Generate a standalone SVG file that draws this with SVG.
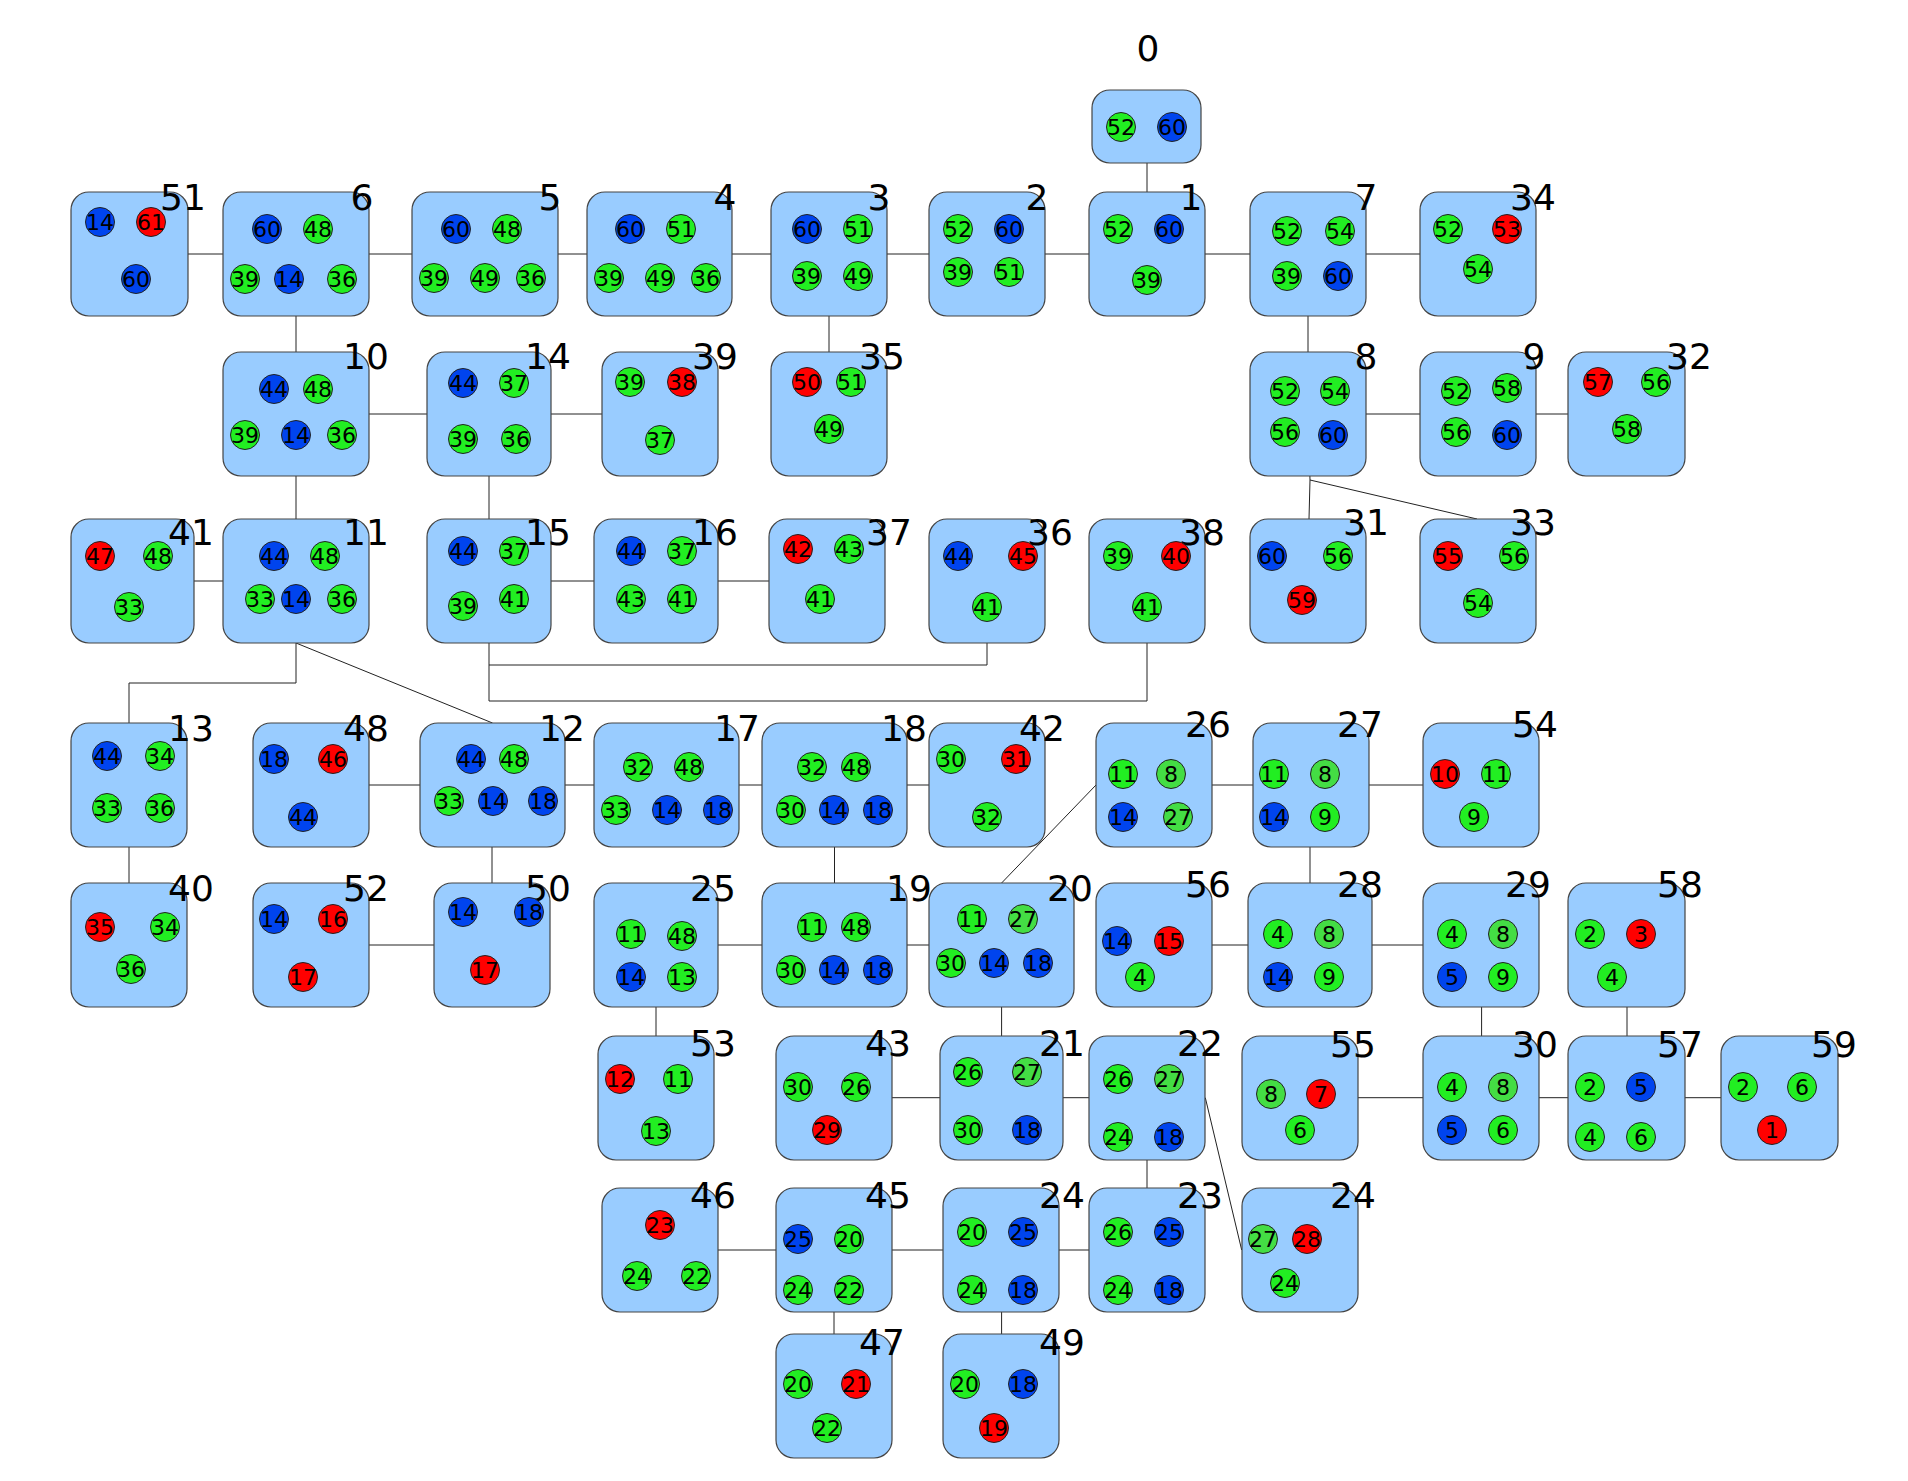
<svg xmlns="http://www.w3.org/2000/svg" width="1908" height="1481" viewBox="0 0 1908 1481">
<style>
.bx{fill:#99ccff;stroke:#444;stroke-width:1.2}
.g{fill:#22ee22;stroke:#222;stroke-width:1}
.h{fill:#44dd44;stroke:#222;stroke-width:1}
.b{fill:#0044ee;stroke:#222;stroke-width:1}
.r{fill:#ff0000;stroke:#222;stroke-width:1}
text{font-family:"DejaVu Sans",sans-serif;fill:#000;text-anchor:middle}
.t{font-size:22px}
.l{font-size:36px}
.e{fill:none;stroke:#222;stroke-width:1}
</style>
<rect width="1908" height="1481" fill="#fff"/>
<g id="edges" class="e">
<path d="M129.5,254H1478"/>
<path d="M1147,127V254"/>
<path d="M296,254V581"/>
<path d="M829,254V414"/>
<path d="M1308,254V414"/>
<path d="M296,414H660"/>
<path d="M489,414V581"/>
<path d="M1308,414H1626"/>
<path d="M1308,414L1310,480L1309,519"/>
<path d="M1310,480L1477,519"/>
<path d="M132,581H296"/>
<path d="M489,581H827"/>
<path d="M489,581V701H1147V581"/>
<path d="M489,665H987V581"/>
<path d="M296,581V683H129V945"/>
<path d="M296,643L492.5,723"/>
<path d="M311,785H987"/>
<path d="M1154,785H1481"/>
<path d="M492,785V945"/>
<path d="M834.5,785V945"/>
<path d="M1310,785V945"/>
<path d="M1096,785L1001.6,883"/>
<path d="M311,945H492"/>
<path d="M656,945H1001.5"/>
<path d="M1154,945H1481"/>
<path d="M656,945V1098"/>
<path d="M1001.6,945V1098"/>
<path d="M1481.6,945V1098"/>
<path d="M1627,945V1098"/>
<path d="M834,1097.7H1147"/>
<path d="M1300,1097.7H1779.5"/>
<path d="M1147,1097.7V1250"/>
<path d="M1205.3,1097.7L1241.7,1250"/>
<path d="M660,1250H1147"/>
<path d="M834,1250V1396"/>
<path d="M1001.6,1250V1396"/>
</g>
<g id="n0"><rect class="bx" x="1092" y="90" width="109" height="73" rx="18"/><text class="l" x="1148" y="61">0</text>
<circle class="g" cx="1121" cy="127" r="14.5"/><text class="t" x="1121" y="135">52</text>
<circle class="b" cx="1172" cy="127" r="14.5"/><text class="t" x="1172" y="135">60</text></g>
<g id="n51"><rect class="bx" x="71" y="192" width="117" height="124" rx="18"/><text class="l" x="183" y="210">51</text>
<circle class="b" cx="100" cy="222" r="14.5"/><text class="t" x="100" y="230">14</text>
<circle class="r" cx="151" cy="222" r="14.5"/><text class="t" x="151" y="230">61</text>
<circle class="b" cx="136" cy="279" r="14.5"/><text class="t" x="136" y="287">60</text></g>
<g id="n6"><rect class="bx" x="223" y="192" width="146" height="124" rx="18"/><text class="l" x="362" y="210">6</text>
<circle class="b" cx="267" cy="229" r="14.5"/><text class="t" x="267" y="237">60</text>
<circle class="g" cx="318" cy="229" r="14.5"/><text class="t" x="318" y="237">48</text>
<circle class="g" cx="245" cy="279" r="14.5"/><text class="t" x="245" y="287">39</text>
<circle class="b" cx="289" cy="279" r="14.5"/><text class="t" x="289" y="287">14</text>
<circle class="g" cx="342" cy="279" r="14.5"/><text class="t" x="342" y="287">36</text></g>
<g id="n5"><rect class="bx" x="412" y="192" width="146" height="124" rx="18"/><text class="l" x="550" y="210">5</text>
<circle class="b" cx="456" cy="229" r="14.5"/><text class="t" x="456" y="237">60</text>
<circle class="g" cx="507" cy="229" r="14.5"/><text class="t" x="507" y="237">48</text>
<circle class="g" cx="434" cy="278" r="14.5"/><text class="t" x="434" y="286">39</text>
<circle class="g" cx="485" cy="278" r="14.5"/><text class="t" x="485" y="286">49</text>
<circle class="g" cx="531" cy="278" r="14.5"/><text class="t" x="531" y="286">36</text></g>
<g id="n4"><rect class="bx" x="587" y="192" width="145" height="124" rx="18"/><text class="l" x="725" y="210">4</text>
<circle class="b" cx="630" cy="229" r="14.5"/><text class="t" x="630" y="237">60</text>
<circle class="g" cx="681" cy="229" r="14.5"/><text class="t" x="681" y="237">51</text>
<circle class="g" cx="609" cy="278" r="14.5"/><text class="t" x="609" y="286">39</text>
<circle class="g" cx="660" cy="278" r="14.5"/><text class="t" x="660" y="286">49</text>
<circle class="g" cx="706" cy="278" r="14.5"/><text class="t" x="706" y="286">36</text></g>
<g id="n3"><rect class="bx" x="771" y="192" width="116" height="124" rx="18"/><text class="l" x="879" y="210">3</text>
<circle class="b" cx="807" cy="229" r="14.5"/><text class="t" x="807" y="237">60</text>
<circle class="g" cx="858" cy="229" r="14.5"/><text class="t" x="858" y="237">51</text>
<circle class="g" cx="807" cy="276" r="14.5"/><text class="t" x="807" y="284">39</text>
<circle class="g" cx="858" cy="276" r="14.5"/><text class="t" x="858" y="284">49</text></g>
<g id="n2"><rect class="bx" x="929" y="192" width="116" height="124" rx="18"/><text class="l" x="1037" y="210">2</text>
<circle class="g" cx="958" cy="229" r="14.5"/><text class="t" x="958" y="237">52</text>
<circle class="b" cx="1009" cy="229" r="14.5"/><text class="t" x="1009" y="237">60</text>
<circle class="g" cx="958" cy="272" r="14.5"/><text class="t" x="958" y="280">39</text>
<circle class="g" cx="1009" cy="272" r="14.5"/><text class="t" x="1009" y="280">51</text></g>
<g id="n1"><rect class="bx" x="1089" y="192" width="116" height="124" rx="18"/><text class="l" x="1191" y="210">1</text>
<circle class="g" cx="1118" cy="229" r="14.5"/><text class="t" x="1118" y="237">52</text>
<circle class="b" cx="1169" cy="229" r="14.5"/><text class="t" x="1169" y="237">60</text>
<circle class="g" cx="1147" cy="280" r="14.5"/><text class="t" x="1147" y="288">39</text></g>
<g id="n7"><rect class="bx" x="1250" y="192" width="116" height="124" rx="18"/><text class="l" x="1366" y="210">7</text>
<circle class="g" cx="1287" cy="231" r="14.5"/><text class="t" x="1287" y="239">52</text>
<circle class="g" cx="1340" cy="231" r="14.5"/><text class="t" x="1340" y="239">54</text>
<circle class="g" cx="1287" cy="276" r="14.5"/><text class="t" x="1287" y="284">39</text>
<circle class="b" cx="1338" cy="276" r="14.5"/><text class="t" x="1338" y="284">60</text></g>
<g id="n34"><rect class="bx" x="1420" y="192" width="116" height="124" rx="18"/><text class="l" x="1533" y="210">34</text>
<circle class="g" cx="1448" cy="229" r="14.5"/><text class="t" x="1448" y="237">52</text>
<circle class="r" cx="1507" cy="229" r="14.5"/><text class="t" x="1507" y="237">53</text>
<circle class="g" cx="1478" cy="269" r="14.5"/><text class="t" x="1478" y="277">54</text></g>
<g id="n10"><rect class="bx" x="223" y="352" width="146" height="124" rx="18"/><text class="l" x="366" y="369">10</text>
<circle class="b" cx="274" cy="389" r="14.5"/><text class="t" x="274" y="397">44</text>
<circle class="g" cx="318" cy="389" r="14.5"/><text class="t" x="318" y="397">48</text>
<circle class="g" cx="245" cy="435" r="14.5"/><text class="t" x="245" y="443">39</text>
<circle class="b" cx="296" cy="435" r="14.5"/><text class="t" x="296" y="443">14</text>
<circle class="g" cx="342" cy="435" r="14.5"/><text class="t" x="342" y="443">36</text></g>
<g id="n14"><rect class="bx" x="427" y="352" width="124" height="124" rx="18"/><text class="l" x="548" y="369">14</text>
<circle class="b" cx="463" cy="383" r="14.5"/><text class="t" x="463" y="391">44</text>
<circle class="g" cx="514" cy="383" r="14.5"/><text class="t" x="514" y="391">37</text>
<circle class="g" cx="463" cy="439" r="14.5"/><text class="t" x="463" y="447">39</text>
<circle class="g" cx="516" cy="439" r="14.5"/><text class="t" x="516" y="447">36</text></g>
<g id="n39"><rect class="bx" x="602" y="352" width="116" height="124" rx="18"/><text class="l" x="715" y="369">39</text>
<circle class="g" cx="630" cy="382" r="14.5"/><text class="t" x="630" y="390">39</text>
<circle class="r" cx="682" cy="382" r="14.5"/><text class="t" x="682" y="390">38</text>
<circle class="g" cx="660" cy="440" r="14.5"/><text class="t" x="660" y="448">37</text></g>
<g id="n35"><rect class="bx" x="771" y="352" width="116" height="124" rx="18"/><text class="l" x="882" y="369">35</text>
<circle class="r" cx="807" cy="382" r="14.5"/><text class="t" x="807" y="390">50</text>
<circle class="g" cx="851" cy="382" r="14.5"/><text class="t" x="851" y="390">51</text>
<circle class="g" cx="829" cy="429" r="14.5"/><text class="t" x="829" y="437">49</text></g>
<g id="n8"><rect class="bx" x="1250" y="352" width="116" height="124" rx="18"/><text class="l" x="1366" y="369">8</text>
<circle class="g" cx="1285" cy="391" r="14.5"/><text class="t" x="1285" y="399">52</text>
<circle class="g" cx="1335" cy="391" r="14.5"/><text class="t" x="1335" y="399">54</text>
<circle class="g" cx="1285" cy="432" r="14.5"/><text class="t" x="1285" y="440">56</text>
<circle class="b" cx="1333" cy="435" r="14.5"/><text class="t" x="1333" y="443">60</text></g>
<g id="n9"><rect class="bx" x="1420" y="352" width="116" height="124" rx="18"/><text class="l" x="1534" y="369">9</text>
<circle class="g" cx="1456" cy="391" r="14.5"/><text class="t" x="1456" y="399">52</text>
<circle class="g" cx="1507" cy="388" r="14.5"/><text class="t" x="1507" y="396">58</text>
<circle class="g" cx="1456" cy="432" r="14.5"/><text class="t" x="1456" y="440">56</text>
<circle class="b" cx="1507" cy="435" r="14.5"/><text class="t" x="1507" y="443">60</text></g>
<g id="n32"><rect class="bx" x="1568" y="352" width="117" height="124" rx="18"/><text class="l" x="1689" y="369">32</text>
<circle class="r" cx="1598" cy="382" r="14.5"/><text class="t" x="1598" y="390">57</text>
<circle class="g" cx="1656" cy="382" r="14.5"/><text class="t" x="1656" y="390">56</text>
<circle class="g" cx="1627" cy="429" r="14.5"/><text class="t" x="1627" y="437">58</text></g>
<g id="n41"><rect class="bx" x="71" y="519" width="123" height="124" rx="18"/><text class="l" x="191" y="545">41</text>
<circle class="r" cx="100" cy="556" r="14.5"/><text class="t" x="100" y="564">47</text>
<circle class="g" cx="158" cy="556" r="14.5"/><text class="t" x="158" y="564">48</text>
<circle class="g" cx="129" cy="607" r="14.5"/><text class="t" x="129" y="615">33</text></g>
<g id="n11"><rect class="bx" x="223" y="519" width="146" height="124" rx="18"/><text class="l" x="366" y="545">11</text>
<circle class="b" cx="274" cy="556" r="14.5"/><text class="t" x="274" y="564">44</text>
<circle class="g" cx="325" cy="556" r="14.5"/><text class="t" x="325" y="564">48</text>
<circle class="g" cx="260" cy="599" r="14.5"/><text class="t" x="260" y="607">33</text>
<circle class="b" cx="296" cy="599" r="14.5"/><text class="t" x="296" y="607">14</text>
<circle class="g" cx="342" cy="599" r="14.5"/><text class="t" x="342" y="607">36</text></g>
<g id="n15"><rect class="bx" x="427" y="519" width="124" height="124" rx="18"/><text class="l" x="548" y="545">15</text>
<circle class="b" cx="463" cy="551" r="14.5"/><text class="t" x="463" y="559">44</text>
<circle class="g" cx="514" cy="551" r="14.5"/><text class="t" x="514" y="559">37</text>
<circle class="g" cx="463" cy="606" r="14.5"/><text class="t" x="463" y="614">39</text>
<circle class="g" cx="514" cy="599" r="14.5"/><text class="t" x="514" y="607">41</text></g>
<g id="n16"><rect class="bx" x="594" y="519" width="124" height="124" rx="18"/><text class="l" x="715" y="545">16</text>
<circle class="b" cx="631" cy="551" r="14.5"/><text class="t" x="631" y="559">44</text>
<circle class="g" cx="682" cy="551" r="14.5"/><text class="t" x="682" y="559">37</text>
<circle class="g" cx="631" cy="599" r="14.5"/><text class="t" x="631" y="607">43</text>
<circle class="g" cx="682" cy="599" r="14.5"/><text class="t" x="682" y="607">41</text></g>
<g id="n37"><rect class="bx" x="769" y="519" width="116" height="124" rx="18"/><text class="l" x="889" y="545">37</text>
<circle class="r" cx="798" cy="549" r="14.5"/><text class="t" x="798" y="557">42</text>
<circle class="g" cx="849" cy="549" r="14.5"/><text class="t" x="849" y="557">43</text>
<circle class="g" cx="820" cy="599" r="14.5"/><text class="t" x="820" y="607">41</text></g>
<g id="n36"><rect class="bx" x="929" y="519" width="116" height="124" rx="18"/><text class="l" x="1050" y="545">36</text>
<circle class="b" cx="958" cy="556" r="14.5"/><text class="t" x="958" y="564">44</text>
<circle class="r" cx="1023" cy="556" r="14.5"/><text class="t" x="1023" y="564">45</text>
<circle class="g" cx="987" cy="607" r="14.5"/><text class="t" x="987" y="615">41</text></g>
<g id="n38"><rect class="bx" x="1089" y="519" width="116" height="124" rx="18"/><text class="l" x="1202" y="545">38</text>
<circle class="g" cx="1118" cy="556" r="14.5"/><text class="t" x="1118" y="564">39</text>
<circle class="r" cx="1176" cy="556" r="14.5"/><text class="t" x="1176" y="564">40</text>
<circle class="g" cx="1147" cy="607" r="14.5"/><text class="t" x="1147" y="615">41</text></g>
<g id="n31"><rect class="bx" x="1250" y="519" width="116" height="124" rx="18"/><text class="l" x="1366" y="535">31</text>
<circle class="b" cx="1272" cy="556" r="14.5"/><text class="t" x="1272" y="564">60</text>
<circle class="g" cx="1338" cy="556" r="14.5"/><text class="t" x="1338" y="564">56</text>
<circle class="r" cx="1302" cy="600" r="14.5"/><text class="t" x="1302" y="608">59</text></g>
<g id="n33"><rect class="bx" x="1420" y="519" width="116" height="124" rx="18"/><text class="l" x="1533" y="535">33</text>
<circle class="r" cx="1448" cy="556" r="14.5"/><text class="t" x="1448" y="564">55</text>
<circle class="g" cx="1514" cy="556" r="14.5"/><text class="t" x="1514" y="564">56</text>
<circle class="g" cx="1478" cy="603" r="14.5"/><text class="t" x="1478" y="611">54</text></g>
<g id="n13"><rect class="bx" x="71" y="723" width="116" height="124" rx="18"/><text class="l" x="191" y="741">13</text>
<circle class="b" cx="107" cy="756" r="14.5"/><text class="t" x="107" y="764">44</text>
<circle class="g" cx="160" cy="756" r="14.5"/><text class="t" x="160" y="764">34</text>
<circle class="g" cx="107" cy="808" r="14.5"/><text class="t" x="107" y="816">33</text>
<circle class="g" cx="160" cy="808" r="14.5"/><text class="t" x="160" y="816">36</text></g>
<g id="n48"><rect class="bx" x="253" y="723" width="116" height="124" rx="18"/><text class="l" x="366" y="741">48</text>
<circle class="b" cx="274" cy="759" r="14.5"/><text class="t" x="274" y="767">18</text>
<circle class="r" cx="333" cy="759" r="14.5"/><text class="t" x="333" y="767">46</text>
<circle class="b" cx="303" cy="817" r="14.5"/><text class="t" x="303" y="825">44</text></g>
<g id="n12"><rect class="bx" x="420" y="723" width="145" height="124" rx="18"/><text class="l" x="562" y="741">12</text>
<circle class="b" cx="471" cy="759" r="14.5"/><text class="t" x="471" y="767">44</text>
<circle class="g" cx="514" cy="759" r="14.5"/><text class="t" x="514" y="767">48</text>
<circle class="g" cx="449" cy="801" r="14.5"/><text class="t" x="449" y="809">33</text>
<circle class="b" cx="493" cy="801" r="14.5"/><text class="t" x="493" y="809">14</text>
<circle class="b" cx="543" cy="801" r="14.5"/><text class="t" x="543" y="809">18</text></g>
<g id="n17"><rect class="bx" x="594" y="723" width="145" height="124" rx="18"/><text class="l" x="737" y="741">17</text>
<circle class="g" cx="638" cy="767" r="14.5"/><text class="t" x="638" y="775">32</text>
<circle class="g" cx="689" cy="767" r="14.5"/><text class="t" x="689" y="775">48</text>
<circle class="g" cx="616" cy="810" r="14.5"/><text class="t" x="616" y="818">33</text>
<circle class="b" cx="667" cy="810" r="14.5"/><text class="t" x="667" y="818">14</text>
<circle class="b" cx="718" cy="810" r="14.5"/><text class="t" x="718" y="818">18</text></g>
<g id="n18"><rect class="bx" x="762" y="723" width="145" height="124" rx="18"/><text class="l" x="904" y="741">18</text>
<circle class="g" cx="812" cy="767" r="14.5"/><text class="t" x="812" y="775">32</text>
<circle class="g" cx="856" cy="767" r="14.5"/><text class="t" x="856" y="775">48</text>
<circle class="g" cx="791" cy="810" r="14.5"/><text class="t" x="791" y="818">30</text>
<circle class="b" cx="834" cy="810" r="14.5"/><text class="t" x="834" y="818">14</text>
<circle class="b" cx="878" cy="810" r="14.5"/><text class="t" x="878" y="818">18</text></g>
<g id="n42"><rect class="bx" x="929" y="723" width="116" height="124" rx="18"/><text class="l" x="1042" y="741">42</text>
<circle class="g" cx="951" cy="759" r="14.5"/><text class="t" x="951" y="767">30</text>
<circle class="r" cx="1016" cy="759" r="14.5"/><text class="t" x="1016" y="767">31</text>
<circle class="g" cx="987" cy="817" r="14.5"/><text class="t" x="987" y="825">32</text></g>
<g id="n26"><rect class="bx" x="1096" y="723" width="116" height="124" rx="18"/><text class="l" x="1208" y="737">26</text>
<circle class="g" cx="1123" cy="774" r="14.5"/><text class="t" x="1123" y="782">11</text>
<circle class="h" cx="1171" cy="774" r="14.5"/><text class="t" x="1171" y="782">8</text>
<circle class="b" cx="1123" cy="817" r="14.5"/><text class="t" x="1123" y="825">14</text>
<circle class="h" cx="1178" cy="817" r="14.5"/><text class="t" x="1178" y="825">27</text></g>
<g id="n27"><rect class="bx" x="1253" y="723" width="116" height="124" rx="18"/><text class="l" x="1360" y="737">27</text>
<circle class="g" cx="1274" cy="774" r="14.5"/><text class="t" x="1274" y="782">11</text>
<circle class="h" cx="1325" cy="774" r="14.5"/><text class="t" x="1325" y="782">8</text>
<circle class="b" cx="1274" cy="817" r="14.5"/><text class="t" x="1274" y="825">14</text>
<circle class="g" cx="1325" cy="817" r="14.5"/><text class="t" x="1325" y="825">9</text></g>
<g id="n54"><rect class="bx" x="1423" y="723" width="116" height="124" rx="18"/><text class="l" x="1535" y="737">54</text>
<circle class="r" cx="1445" cy="774" r="14.5"/><text class="t" x="1445" y="782">10</text>
<circle class="g" cx="1496" cy="774" r="14.5"/><text class="t" x="1496" y="782">11</text>
<circle class="g" cx="1474" cy="817" r="14.5"/><text class="t" x="1474" y="825">9</text></g>
<g id="n40"><rect class="bx" x="71" y="883" width="116" height="124" rx="18"/><text class="l" x="191" y="901">40</text>
<circle class="r" cx="100" cy="927" r="14.5"/><text class="t" x="100" y="935">35</text>
<circle class="g" cx="165" cy="927" r="14.5"/><text class="t" x="165" y="935">34</text>
<circle class="g" cx="131" cy="969" r="14.5"/><text class="t" x="131" y="977">36</text></g>
<g id="n52"><rect class="bx" x="253" y="883" width="116" height="124" rx="18"/><text class="l" x="366" y="901">52</text>
<circle class="b" cx="274" cy="919" r="14.5"/><text class="t" x="274" y="927">14</text>
<circle class="r" cx="333" cy="919" r="14.5"/><text class="t" x="333" y="927">16</text>
<circle class="r" cx="303" cy="977" r="14.5"/><text class="t" x="303" y="985">17</text></g>
<g id="n50"><rect class="bx" x="434" y="883" width="116" height="124" rx="18"/><text class="l" x="548" y="901">50</text>
<circle class="b" cx="463" cy="912" r="14.5"/><text class="t" x="463" y="920">14</text>
<circle class="b" cx="529" cy="912" r="14.5"/><text class="t" x="529" y="920">18</text>
<circle class="r" cx="485" cy="970" r="14.5"/><text class="t" x="485" y="978">17</text></g>
<g id="n25"><rect class="bx" x="594" y="883" width="124" height="124" rx="18"/><text class="l" x="713" y="901">25</text>
<circle class="g" cx="631" cy="934" r="14.5"/><text class="t" x="631" y="942">11</text>
<circle class="g" cx="682" cy="936" r="14.5"/><text class="t" x="682" y="944">48</text>
<circle class="b" cx="631" cy="977" r="14.5"/><text class="t" x="631" y="985">14</text>
<circle class="g" cx="682" cy="977" r="14.5"/><text class="t" x="682" y="985">13</text></g>
<g id="n19"><rect class="bx" x="762" y="883" width="145" height="124" rx="18"/><text class="l" x="909" y="901">19</text>
<circle class="g" cx="812" cy="927" r="14.5"/><text class="t" x="812" y="935">11</text>
<circle class="g" cx="856" cy="927" r="14.5"/><text class="t" x="856" y="935">48</text>
<circle class="g" cx="791" cy="970" r="14.5"/><text class="t" x="791" y="978">30</text>
<circle class="b" cx="834" cy="970" r="14.5"/><text class="t" x="834" y="978">14</text>
<circle class="b" cx="878" cy="970" r="14.5"/><text class="t" x="878" y="978">18</text></g>
<g id="n20"><rect class="bx" x="929" y="883" width="145" height="124" rx="18"/><text class="l" x="1070" y="901">20</text>
<circle class="g" cx="972" cy="919" r="14.5"/><text class="t" x="972" y="927">11</text>
<circle class="h" cx="1023" cy="919" r="14.5"/><text class="t" x="1023" y="927">27</text>
<circle class="g" cx="951" cy="963" r="14.5"/><text class="t" x="951" y="971">30</text>
<circle class="b" cx="994" cy="963" r="14.5"/><text class="t" x="994" y="971">14</text>
<circle class="b" cx="1038" cy="963" r="14.5"/><text class="t" x="1038" y="971">18</text></g>
<g id="n56"><rect class="bx" x="1096" y="883" width="116" height="124" rx="18"/><text class="l" x="1208" y="897">56</text>
<circle class="b" cx="1117" cy="941" r="14.5"/><text class="t" x="1117" y="949">14</text>
<circle class="r" cx="1169" cy="941" r="14.5"/><text class="t" x="1169" y="949">15</text>
<circle class="g" cx="1140" cy="977" r="14.5"/><text class="t" x="1140" y="985">4</text></g>
<g id="n28"><rect class="bx" x="1248" y="883" width="124" height="124" rx="18"/><text class="l" x="1360" y="897">28</text>
<circle class="g" cx="1278" cy="934" r="14.5"/><text class="t" x="1278" y="942">4</text>
<circle class="h" cx="1329" cy="934" r="14.5"/><text class="t" x="1329" y="942">8</text>
<circle class="b" cx="1278" cy="977" r="14.5"/><text class="t" x="1278" y="985">14</text>
<circle class="g" cx="1329" cy="977" r="14.5"/><text class="t" x="1329" y="985">9</text></g>
<g id="n29"><rect class="bx" x="1423" y="883" width="116" height="124" rx="18"/><text class="l" x="1528" y="897">29</text>
<circle class="g" cx="1452" cy="934" r="14.5"/><text class="t" x="1452" y="942">4</text>
<circle class="h" cx="1503" cy="934" r="14.5"/><text class="t" x="1503" y="942">8</text>
<circle class="b" cx="1452" cy="977" r="14.5"/><text class="t" x="1452" y="985">5</text>
<circle class="g" cx="1503" cy="977" r="14.5"/><text class="t" x="1503" y="985">9</text></g>
<g id="n58"><rect class="bx" x="1568" y="883" width="117" height="124" rx="18"/><text class="l" x="1680" y="897">58</text>
<circle class="g" cx="1590" cy="934" r="14.5"/><text class="t" x="1590" y="942">2</text>
<circle class="r" cx="1641" cy="934" r="14.5"/><text class="t" x="1641" y="942">3</text>
<circle class="g" cx="1612" cy="977" r="14.5"/><text class="t" x="1612" y="985">4</text></g>
<g id="n53"><rect class="bx" x="598" y="1036" width="116" height="124" rx="18"/><text class="l" x="713" y="1056">53</text>
<circle class="r" cx="620" cy="1079" r="14.5"/><text class="t" x="620" y="1087">12</text>
<circle class="g" cx="678" cy="1079" r="14.5"/><text class="t" x="678" y="1087">11</text>
<circle class="g" cx="656" cy="1131" r="14.5"/><text class="t" x="656" y="1139">13</text></g>
<g id="n43"><rect class="bx" x="776" y="1036" width="116" height="124" rx="18"/><text class="l" x="888" y="1056">43</text>
<circle class="g" cx="798" cy="1087" r="14.5"/><text class="t" x="798" y="1095">30</text>
<circle class="g" cx="856" cy="1087" r="14.5"/><text class="t" x="856" y="1095">26</text>
<circle class="r" cx="827" cy="1130" r="14.5"/><text class="t" x="827" y="1138">29</text></g>
<g id="n21"><rect class="bx" x="940" y="1036" width="123" height="124" rx="18"/><text class="l" x="1062" y="1056">21</text>
<circle class="g" cx="968" cy="1072" r="14.5"/><text class="t" x="968" y="1080">26</text>
<circle class="h" cx="1027" cy="1072" r="14.5"/><text class="t" x="1027" y="1080">27</text>
<circle class="g" cx="968" cy="1130" r="14.5"/><text class="t" x="968" y="1138">30</text>
<circle class="b" cx="1027" cy="1130" r="14.5"/><text class="t" x="1027" y="1138">18</text></g>
<g id="n22"><rect class="bx" x="1089" y="1036" width="116" height="124" rx="18"/><text class="l" x="1200" y="1056">22</text>
<circle class="g" cx="1118" cy="1079" r="14.5"/><text class="t" x="1118" y="1087">26</text>
<circle class="h" cx="1169" cy="1079" r="14.5"/><text class="t" x="1169" y="1087">27</text>
<circle class="g" cx="1118" cy="1137" r="14.5"/><text class="t" x="1118" y="1145">24</text>
<circle class="b" cx="1169" cy="1137" r="14.5"/><text class="t" x="1169" y="1145">18</text></g>
<g id="n55"><rect class="bx" x="1242" y="1036" width="116" height="124" rx="18"/><text class="l" x="1353" y="1057">55</text>
<circle class="h" cx="1271" cy="1094" r="14.5"/><text class="t" x="1271" y="1102">8</text>
<circle class="r" cx="1321" cy="1094" r="14.5"/><text class="t" x="1321" y="1102">7</text>
<circle class="g" cx="1300" cy="1130" r="14.5"/><text class="t" x="1300" y="1138">6</text></g>
<g id="n30"><rect class="bx" x="1423" y="1036" width="116" height="124" rx="18"/><text class="l" x="1535" y="1057">30</text>
<circle class="g" cx="1452" cy="1087" r="14.5"/><text class="t" x="1452" y="1095">4</text>
<circle class="h" cx="1503" cy="1087" r="14.5"/><text class="t" x="1503" y="1095">8</text>
<circle class="b" cx="1452" cy="1130" r="14.5"/><text class="t" x="1452" y="1138">5</text>
<circle class="g" cx="1503" cy="1130" r="14.5"/><text class="t" x="1503" y="1138">6</text></g>
<g id="n57"><rect class="bx" x="1568" y="1036" width="117" height="124" rx="18"/><text class="l" x="1680" y="1057">57</text>
<circle class="g" cx="1590" cy="1087" r="14.5"/><text class="t" x="1590" y="1095">2</text>
<circle class="b" cx="1641" cy="1087" r="14.5"/><text class="t" x="1641" y="1095">5</text>
<circle class="g" cx="1590" cy="1137" r="14.5"/><text class="t" x="1590" y="1145">4</text>
<circle class="g" cx="1641" cy="1137" r="14.5"/><text class="t" x="1641" y="1145">6</text></g>
<g id="n59"><rect class="bx" x="1721" y="1036" width="117" height="124" rx="18"/><text class="l" x="1834" y="1057">59</text>
<circle class="g" cx="1743" cy="1087" r="14.5"/><text class="t" x="1743" y="1095">2</text>
<circle class="g" cx="1802" cy="1087" r="14.5"/><text class="t" x="1802" y="1095">6</text>
<circle class="r" cx="1772" cy="1130" r="14.5"/><text class="t" x="1772" y="1138">1</text></g>
<g id="n46"><rect class="bx" x="602" y="1188" width="116" height="124" rx="18"/><text class="l" x="713" y="1208">46</text>
<circle class="r" cx="660" cy="1225" r="14.5"/><text class="t" x="660" y="1233">23</text>
<circle class="g" cx="637" cy="1276" r="14.5"/><text class="t" x="637" y="1284">24</text>
<circle class="g" cx="696" cy="1276" r="14.5"/><text class="t" x="696" y="1284">22</text></g>
<g id="n45"><rect class="bx" x="776" y="1188" width="116" height="124" rx="18"/><text class="l" x="888" y="1208">45</text>
<circle class="b" cx="798" cy="1239" r="14.5"/><text class="t" x="798" y="1247">25</text>
<circle class="g" cx="849" cy="1239" r="14.5"/><text class="t" x="849" y="1247">20</text>
<circle class="g" cx="798" cy="1290" r="14.5"/><text class="t" x="798" y="1298">24</text>
<circle class="g" cx="849" cy="1290" r="14.5"/><text class="t" x="849" y="1298">22</text></g>
<g id="n24"><rect class="bx" x="943" y="1188" width="116" height="124" rx="18"/><text class="l" x="1062" y="1208">24</text>
<circle class="g" cx="972" cy="1232" r="14.5"/><text class="t" x="972" y="1240">20</text>
<circle class="b" cx="1023" cy="1232" r="14.5"/><text class="t" x="1023" y="1240">25</text>
<circle class="g" cx="972" cy="1290" r="14.5"/><text class="t" x="972" y="1298">24</text>
<circle class="b" cx="1023" cy="1290" r="14.5"/><text class="t" x="1023" y="1298">18</text></g>
<g id="n23"><rect class="bx" x="1089" y="1188" width="116" height="124" rx="18"/><text class="l" x="1200" y="1208">23</text>
<circle class="g" cx="1118" cy="1232" r="14.5"/><text class="t" x="1118" y="1240">26</text>
<circle class="b" cx="1169" cy="1232" r="14.5"/><text class="t" x="1169" y="1240">25</text>
<circle class="g" cx="1118" cy="1290" r="14.5"/><text class="t" x="1118" y="1298">24</text>
<circle class="b" cx="1169" cy="1290" r="14.5"/><text class="t" x="1169" y="1298">18</text></g>
<g id="n24b"><rect class="bx" x="1242" y="1188" width="116" height="124" rx="18"/><text class="l" x="1353" y="1208">24</text>
<circle class="h" cx="1263" cy="1239" r="14.5"/><text class="t" x="1263" y="1247">27</text>
<circle class="r" cx="1307" cy="1239" r="14.5"/><text class="t" x="1307" y="1247">28</text>
<circle class="g" cx="1285" cy="1283" r="14.5"/><text class="t" x="1285" y="1291">24</text></g>
<g id="n47"><rect class="bx" x="776" y="1334" width="116" height="124" rx="18"/><text class="l" x="882" y="1355">47</text>
<circle class="g" cx="798" cy="1384" r="14.5"/><text class="t" x="798" y="1392">20</text>
<circle class="r" cx="856" cy="1384" r="14.5"/><text class="t" x="856" y="1392">21</text>
<circle class="g" cx="827" cy="1428" r="14.5"/><text class="t" x="827" y="1436">22</text></g>
<g id="n49"><rect class="bx" x="943" y="1334" width="116" height="124" rx="18"/><text class="l" x="1062" y="1355">49</text>
<circle class="g" cx="965" cy="1384" r="14.5"/><text class="t" x="965" y="1392">20</text>
<circle class="b" cx="1023" cy="1384" r="14.5"/><text class="t" x="1023" y="1392">18</text>
<circle class="r" cx="994" cy="1428" r="14.5"/><text class="t" x="994" y="1436">19</text></g>
</svg>
